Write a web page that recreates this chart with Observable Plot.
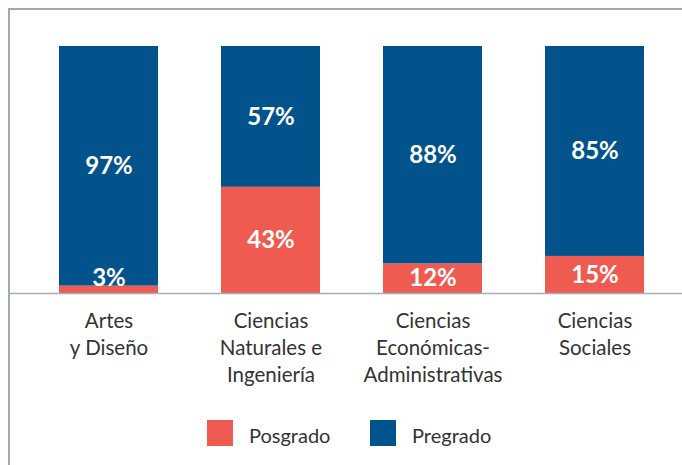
<!DOCTYPE html>
<html>
<head>
<meta charset="utf-8">
<script src="https://cdn.jsdelivr.net/npm/d3@7"></script>
<script src="https://cdn.jsdelivr.net/npm/@observablehq/plot@0.6"></script>
<style>
  html, body { margin: 0; padding: 0; background: #fff; }
  body { width: 682px; height: 465px; overflow: hidden; position: relative; font-family: Lato, "Open Sans", sans-serif; }
  #frame { position: absolute; left: 8px; top: 8px; width: 700px; height: 480px;
           border-top: 2px solid #9eabb7; border-left: 2px solid #9eabb7; box-sizing: border-box; }
  #chart { position: absolute; left: 0; top: 0; }
  #legend { position: absolute; left: 0; top: 420px; width: 682px; height: 26px; }
  .item { position: absolute; top: 0; display: flex; align-items: center; height: 26px; }
  .sw { width: 26px; height: 26px; display: inline-block; }
  .lb { font-size: 20px; color: #333; margin-left: 16px; position: relative; top: 2px; }
</style>
</head>
<body>
<div id="frame"></div>
<div id="chart"></div>
<div id="legend"></div>
<script>
const categories = ["Artes y Diseño", "Ciencias Naturales e Ingeniería", "Ciencias Económicas-Administrativas", "Ciencias Sociales"];
const categoryLabels = ["Artes\ny Diseño", "Ciencias\nNaturales e\nIngeniería", "Ciencias\nEconómicas-\nAdministrativas", "Ciencias\nSociales"];
const series = ["Posgrado", "Pregrado"];
const posgrado = [3, 43, 12, 15];
const pregrado = [97, 57, 88, 85];
const colors = ["#ef5b51", "#02538b"];

const rows = [];
categories.forEach((c, i) => {
  rows.push({category: c, serie: "Posgrado", value: posgrado[i], y0: 0});
  rows.push({category: c, serie: "Pregrado", value: pregrado[i], y0: posgrado[i]});
});
const labelRows = rows.map(d => ({
  ...d,
  ym: d.serie === "Posgrado" ? Math.max(d.y0 + d.value / 2, 6) : d.y0 + d.value / 2
}));

const chart = Plot.plot({
  width: 682,
  height: 400,
  marginLeft: 9,
  marginRight: 0,
  marginTop: 46,
  marginBottom: 107,
  style: {fontFamily: "Lato, 'Open Sans', sans-serif", background: "transparent"},
  x: {domain: categories, range: [27.5, 675.5], paddingInner: 0.389, paddingOuter: 0.1944, label: null},
  y: {domain: [0, 100], axis: null},
  color: {domain: series, range: colors},
  marks: [
    Plot.barY(rows, {x: "category", y1: "y0", y2: d => d.y0 + d.value, fill: "serie"}),
    Plot.ruleY([0], {stroke: "#a3afba", strokeWidth: 1.6}),
    Plot.text(labelRows, {x: "category", y: "ym", text: d => d.value + "%", fill: "white",
      fontSize: 24, fontWeight: "bold"}),
    Plot.axisX({tickSize: 0, tickPadding: 16, fontSize: 20.5, lineHeight: 1.3, fill: "#333",
      tickFormat: d => categoryLabels[categories.indexOf(d)], label: null})
  ]
});
document.getElementById("chart").appendChild(chart);

const legend = document.getElementById("legend");
const lx = [207, 370];
series.forEach((s, i) => {
  const it = document.createElement("div");
  it.className = "item";
  it.style.left = lx[i] + "px";
  it.innerHTML = `<span class="sw" style="background:${colors[i]}"></span><span class="lb">${s}</span>`;
  legend.appendChild(it);
});
</script>
</body>
</html>
